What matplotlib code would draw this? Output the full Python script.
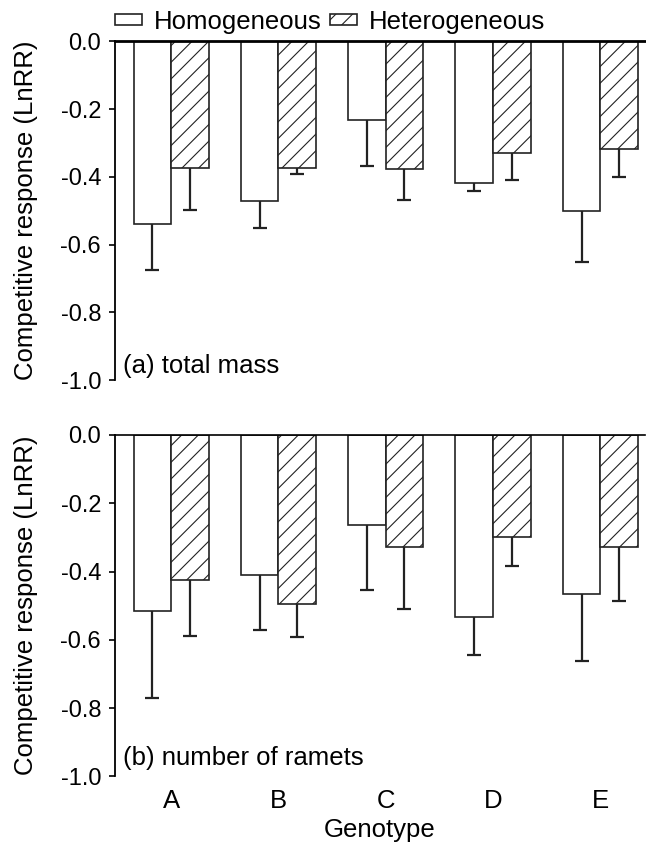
import numpy as np
import matplotlib.pyplot as plt
from matplotlib.patches import Patch

plt.rcParams['font.family'] = ['Liberation Sans', 'DejaVu Sans']
plt.rcParams['hatch.linewidth'] = 0.8
plt.rcParams['hatch.color'] = '#222222'

genotypes = ['A', 'B', 'C', 'D', 'E']

# (a) total mass
mass_homo = [-0.538, -0.470, -0.232, -0.418, -0.501]
mass_homo_err = [0.137, 0.082, 0.137, 0.025, 0.150]
mass_het = [-0.373, -0.374, -0.377, -0.329, -0.318]
mass_het_err = [0.126, 0.018, 0.092, 0.081, 0.082]

# (b) number of ramets
ram_homo = [-0.515, -0.411, -0.265, -0.534, -0.466]
ram_homo_err = [0.256, 0.160, 0.189, 0.110, 0.195]
ram_het = [-0.426, -0.494, -0.328, -0.298, -0.328]
ram_het_err = [0.162, 0.099, 0.181, 0.087, 0.158]

fig = plt.figure(figsize=(6.46, 8.43), dpi=100)
ax1 = fig.add_axes([0.178, 0.549, 0.820, 0.402])
ax2 = fig.add_axes([0.178, 0.079, 0.820, 0.405])

x = np.arange(len(genotypes))
w = 0.35
edge = '#222222'


def err_down(ax, xs, ys, errs):
    zeros = np.zeros(len(xs))
    _, caps, _ = ax.errorbar(xs, ys, yerr=[errs, zeros], fmt='none', ecolor=edge,
                             elinewidth=1.6, capsize=5, capthick=1.6)
    # only keep the lower cap
    caps[1].set_visible(False)


def draw(ax, homo, homo_err, het, het_err, label, toplw, ytext):
    ax.bar(x - w / 2, homo, w, color='white', edgecolor=edge, linewidth=1.2)
    ax.bar(x + w / 2, het, w, color='white', edgecolor=edge, linewidth=1.2, hatch='//')
    err_down(ax, x - w / 2, homo, homo_err)
    err_down(ax, x + w / 2, het, het_err)
    ax.set_ylim(-1.0, 0.0)
    ax.set_xlim(-0.523, 4.414)
    ax.set_yticks([0.0, -0.2, -0.4, -0.6, -0.8, -1.0])
    ax.set_yticklabels(['0.0', '-0.2', '-0.4', '-0.6', '-0.8', '-1.0'])
    ax.tick_params(axis='y', direction='out', length=4, width=1.2, labelsize=17, pad=6)
    ax.spines['bottom'].set_visible(False)
    ax.spines['right'].set_visible(False)
    ax.spines['top'].set_linewidth(toplw)
    ax.spines['left'].set_linewidth(1.3)
    ax.set_ylabel('Competitive response (LnRR)', fontsize=18.5, labelpad=16)
    ax.text(0.015, ytext, label, transform=ax.transAxes, fontsize=18.5,
            ha='left', va='bottom')


draw(ax1, mass_homo, mass_homo_err, mass_het, mass_het_err, '(a) total mass', 2.0, 0.005)
draw(ax2, ram_homo, ram_homo_err, ram_het, ram_het_err, '(b) number of ramets', 1.2, 0.02)

ax1.set_xticks([])
ax2.set_xticks(x)
ax2.set_xticklabels(genotypes, fontsize=18.5)
ax2.tick_params(axis='x', length=0, pad=9)
ax2.set_xlabel('Genotype', fontsize=18.5, labelpad=4)

handles = [Patch(facecolor='white', edgecolor=edge, linewidth=1.2),
           Patch(facecolor='white', edgecolor=edge, linewidth=1.2, hatch='//')]
fig.legend(handles, ['Homogeneous', 'Heterogeneous'], ncol=2, frameon=False,
           fontsize=18.5, loc='center left', bbox_to_anchor=(0.178, 0.974),
           handlelength=1.05, handleheight=0.3, handletextpad=0.45,
           columnspacing=0.35, borderaxespad=0, borderpad=0)

fig.savefig('out.png', dpi=100)
